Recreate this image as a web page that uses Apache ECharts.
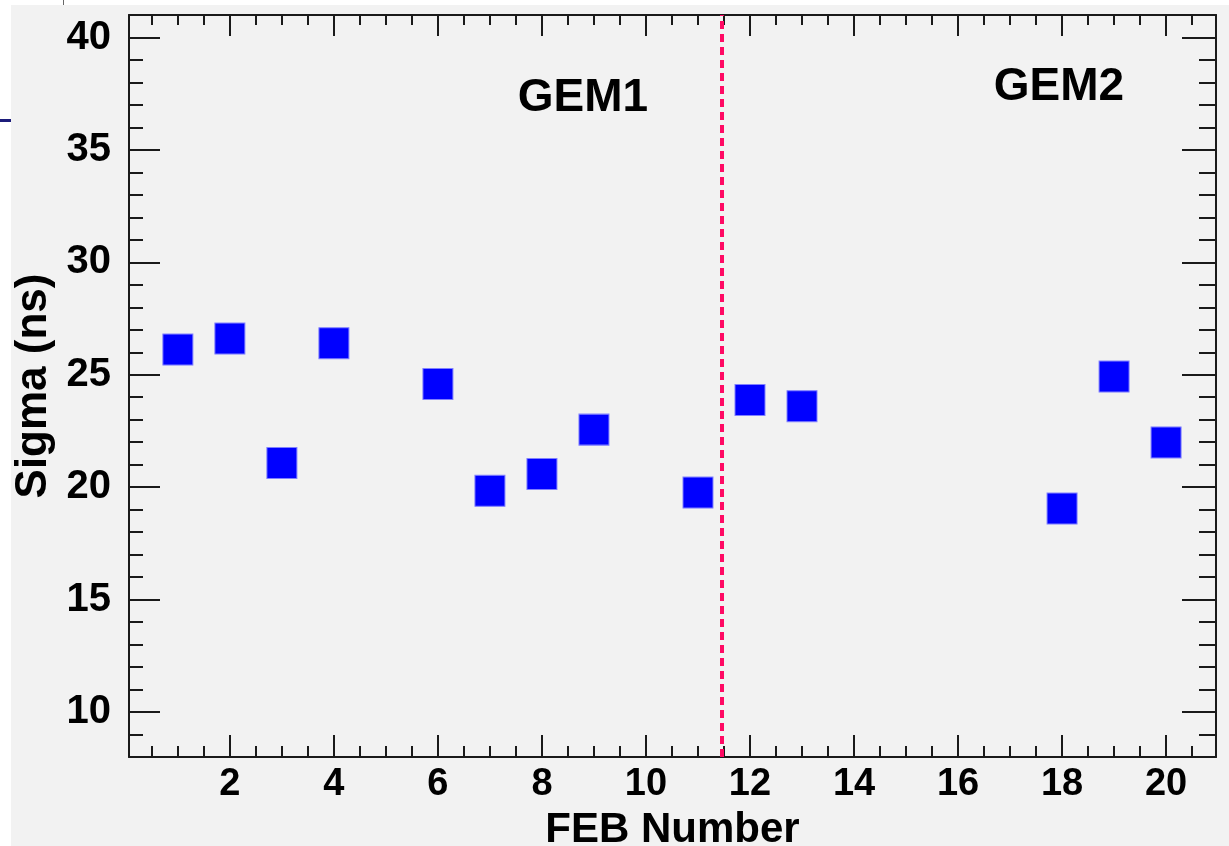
<!DOCTYPE html>
<html>
<head>
<meta charset="utf-8">
<script src="https://cdn.jsdelivr.net/npm/echarts@6/dist/echarts.min.js"></script>
<style>
  html, body { margin: 0; padding: 0; background: #ffffff; }
  #chart { width: 1229px; height: 846px; }
</style>
</head>
<body>
<div id="chart"></div>
<script>
// FEB timing resolution per front-end board
const febNumbers = [1, 2, 3, 4, 6, 7, 8, 9, 11, 12, 13, 18, 19, 20];
const sigmaNs    = [26.12, 26.61, 21.08, 26.40, 24.59, 19.84, 20.59, 22.56, 19.76, 23.88, 23.60, 19.05, 24.92, 21.99];

// axis ticks
const xTickValues = [2, 4, 6, 8, 10, 12, 14, 16, 18, 20];
const yTickValues = [10, 15, 20, 25, 30, 35, 40];

// boundary between the two detectors and their labels
const gemBoundary = 11.45;
const gemLabels = ['GEM1', 'GEM2'];

const X_MIN = 0.06, X_MAX = 20.96;
const Y_MIN = 8, Y_MAX = 41;

// minor ticks: every 0.5 on x, every 1 on y
const xMinorValues = [];
for (let v = 0.5; v < X_MAX; v += 0.5) xMinorValues.push(v);
const yMinorValues = [];
for (let v = 9; v < Y_MAX; v += 1) yMinorValues.push(v);

const FONT = '"Liberation Sans", Arial, Helvetica, sans-serif';
const INK = '#1a1a1a';
const frameLine = { show: true, lineStyle: { color: INK, width: 2 } };
const noLine = { show: false };

function xAxisDef(gridIndex, position, ticks, len, withLine, withLabels) {
  const ax = {
    type: 'value', gridIndex, position, min: X_MIN, max: X_MAX,
    axisLine: withLine ? frameLine : noLine,
    axisTick: { show: true, inside: true, length: len, customValues: ticks,
                lineStyle: { color: INK, width: 2 } },
    axisLabel: { show: false },
    splitLine: { show: false }
  };
  if (withLabels) {
    ax.axisLabel = { show: true, customValues: ticks, margin: 9, color: '#000',
                     fontFamily: FONT, fontWeight: 'bold', fontSize: 38 };
    ax.name = 'FEB Number';
    ax.nameLocation = 'middle';
    ax.nameGap = 52;
    ax.nameTextStyle = { color: '#000', fontFamily: FONT, fontWeight: 'bold', fontSize: 42 };
  }
  return ax;
}

function yAxisDef(gridIndex, position, ticks, len, withLine, withLabels) {
  const ax = {
    type: 'value', gridIndex, position, min: Y_MIN, max: Y_MAX,
    axisLine: withLine ? frameLine : noLine,
    axisTick: { show: true, inside: true, length: len, customValues: ticks,
                lineStyle: { color: INK, width: 2 } },
    axisLabel: { show: false },
    splitLine: { show: false }
  };
  if (withLabels) {
    ax.axisLabel = { show: true, customValues: ticks, margin: 18, color: '#000',
                     fontFamily: FONT, fontWeight: 'bold', fontSize: 40 };
    ax.name = 'Sigma (ns)';
    ax.nameLocation = 'middle';
    ax.nameGap = 73;
    ax.nameTextStyle = { color: '#000', fontFamily: FONT, fontWeight: 'bold', fontSize: 44 };
  }
  return ax;
}

// both grids share the same fixed frame; the second one carries the minor ticks
const gridBox = { left: 129, right: 13, top: 15, bottom: 89,
                  containLabel: false, outerBoundsMode: 'none' };

const chart = echarts.init(document.getElementById('chart'), null, { renderer: 'canvas' });

chart.setOption({
  animation: false,
  backgroundColor: '#ffffff',
  graphic: [
    { type: 'rect', z: -10, silent: true,
      shape: { x: 11, y: 5, width: 1229 - 11, height: 846 - 5 },
      style: { fill: '#f2f2f2' } },
    { type: 'rect', silent: true,
      shape: { x: 0, y: 119, width: 11, height: 3 },
      style: { fill: '#1c1c7a' } },
    { type: 'rect', silent: true,
      shape: { x: 63, y: 0, width: 1, height: 5 },
      style: { fill: '#666666' } },
    { type: 'text', silent: true, x: 583, y: 98,
      style: { text: gemLabels[0], fill: '#000', font: 'bold 46px ' + FONT,
               textAlign: 'center', textVerticalAlign: 'middle' } },
    { type: 'text', silent: true, x: 1059, y: 87,
      style: { text: gemLabels[1], fill: '#000', font: 'bold 46px ' + FONT,
               textAlign: 'center', textVerticalAlign: 'middle' } }
  ],
  grid: [Object.assign({}, gridBox), Object.assign({}, gridBox)],
  xAxis: [
    xAxisDef(0, 'bottom', xTickValues, 22, true, true),
    xAxisDef(0, 'top', xTickValues, 21, true, false),
    xAxisDef(1, 'bottom', xMinorValues, 11, false, false),
    xAxisDef(1, 'top', xMinorValues, 10, false, false)
  ],
  yAxis: [
    yAxisDef(0, 'left', yTickValues, 31, true, true),
    yAxisDef(0, 'right', yTickValues, 34, true, false),
    yAxisDef(1, 'left', yMinorValues, 14, false, false),
    yAxisDef(1, 'right', yMinorValues, 17, false, false)
  ],
  series: [{
    type: 'scatter',
    xAxisIndex: 0,
    yAxisIndex: 0,
    symbol: 'rect',
    symbolSize: [30, 31],
    itemStyle: { color: '#0000ff', borderColor: '#8080ff', borderWidth: 1, opacity: 1 },
    data: febNumbers.map((f, i) => [f, sigmaNs[i]]),
    markLine: {
      silent: true,
      symbol: ['none', 'none'],
      label: { show: false },
      lineStyle: { color: '#ff0a64', width: 4, type: [8, 5] },
      data: [{ xAxis: gemBoundary }]
    },
    z: 3
  }]
});
</script>
</body>
</html>
